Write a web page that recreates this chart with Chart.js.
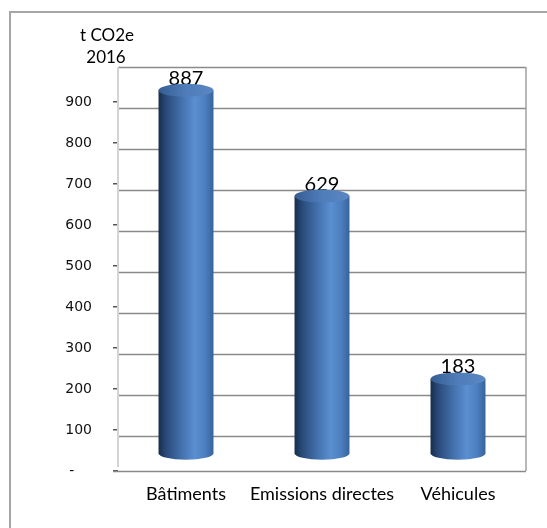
<!DOCTYPE html>
<html>
<head>
<meta charset="utf-8">
<script src="https://cdn.jsdelivr.net/npm/chart.js@4/dist/chart.umd.min.js"></script>
<style>
  html, body { margin: 0; padding: 0; background: #fff; }
  canvas { display: block; }
</style>
</head>
<body>
<canvas id="c" width="547" height="528"></canvas>
<script>
// Emissions per source, tonnes CO2e, 2016
const categories = ['Bâtiments', 'Emissions directes', 'Véhicules'];
const emissions = [887, 629, 183];
const titleLines = ['t CO2e', '2016'];
const yMax = 1000;
const yStep = 100;

// 3D look: back wall sits a little below the axis labels, cylinders a little above
const WALL_SHIFT = 6;
const BAR_SHIFT = -17;
const CAP_RY = 6.5;

const framePlugin = {
  id: 'frame',
  beforeDraw(chart) {
    const ctx = chart.ctx;
    ctx.save();
    ctx.fillStyle = '#fff';
    ctx.fillRect(0, 0, chart.width, chart.height);
    ctx.strokeStyle = '#a6a6a6';
    ctx.lineWidth = 2;
    ctx.strokeRect(10, 12, chart.width + 20, chart.height + 20);
    // title
    ctx.fillStyle = '#000';
    ctx.font = '17px Lato';
    ctx.textAlign = 'center';
    ctx.textBaseline = 'middle';
    ctx.fillText(titleLines[0], 107, 36);
    ctx.fillText(titleLines[1], 106, 58);
    ctx.restore();
  },
  beforeDatasetsDraw(chart) {
    const ctx = chart.ctx;
    const a = chart.chartArea;
    const y = chart.scales.y;
    ctx.save();
    // back wall grid
    ctx.strokeStyle = '#8a8a8a';
    ctx.lineWidth = 1.5;
    for (let v = yStep; v <= yMax; v += yStep) {
      const py = Math.round(y.getPixelForValue(v) + WALL_SHIFT) + 0.5;
      ctx.beginPath();
      ctx.moveTo(a.left, py);
      ctx.lineTo(a.right, py);
      ctx.stroke();
    }
    // side edges
    const topY = y.getPixelForValue(yMax) + WALL_SHIFT;
    const floorY = y.getPixelForValue(0);
    ctx.strokeStyle = '#d4d4d4';
    ctx.lineWidth = 2;
    ctx.beginPath();
    ctx.moveTo(a.left, topY);
    ctx.lineTo(a.left, floorY - 4);
    ctx.stroke();
    ctx.strokeStyle = '#a0a0a0';
    ctx.lineWidth = 1.5;
    ctx.beginPath();
    ctx.moveTo(a.right, topY);
    ctx.lineTo(a.right, floorY);
    ctx.stroke();
    // floor front edge
    ctx.strokeStyle = '#8a8a8a';
    ctx.beginPath();
    ctx.moveTo(a.left - 5, Math.round(floorY) + 0.5);
    ctx.lineTo(a.right, Math.round(floorY) + 0.5);
    ctx.stroke();
    ctx.restore();
  },
  afterDatasetsDraw(chart) {
    const ctx = chart.ctx;
    const meta = chart.getDatasetMeta(0);
    const values = chart.data.datasets[0].data;
    ctx.save();
    // value labels sit just above each cap
    ctx.fillStyle = '#000';
    ctx.font = '20px Lato';
    ctx.textAlign = 'center';
    ctx.textBaseline = 'alphabetic';
    meta.data.forEach((el, i) => {
      const yTop = el.y + BAR_SHIFT;
      ctx.fillText(String(values[i]), el.x, yTop - CAP_RY + 1);
    });
    // cylinders
    meta.data.forEach((el) => {
      const cx = el.x;
      const rx = el.width / 2;
      const yTop = el.y + BAR_SHIFT;
      const yBase = el.base + BAR_SHIFT;
      const g = ctx.createLinearGradient(cx - rx, 0, cx + rx, 0);
      g.addColorStop(0, '#172d4c');
      g.addColorStop(0.15, '#2a4c7b');
      g.addColorStop(0.45, '#4675b2');
      g.addColorStop(0.66, '#5a8fd1');
      g.addColorStop(0.86, '#4b7dbd');
      g.addColorStop(1, '#36629b');
      ctx.beginPath();
      ctx.moveTo(cx - rx, yTop);
      ctx.lineTo(cx - rx, yBase);
      ctx.ellipse(cx, yBase, rx, CAP_RY, 0, Math.PI, 0, true);
      ctx.lineTo(cx + rx, yTop);
      ctx.closePath();
      ctx.fillStyle = g;
      ctx.fill();
      const t = ctx.createLinearGradient(cx - rx, 0, cx + rx, 0);
      t.addColorStop(0, '#365d92');
      t.addColorStop(0.5, '#4f7dba');
      t.addColorStop(1, '#5a87c2');
      ctx.beginPath();
      ctx.ellipse(cx, yTop, rx, CAP_RY, 0, 0, Math.PI * 2);
      ctx.fillStyle = t;
      ctx.fill();
    });
    ctx.restore();
  }
};

new Chart(document.getElementById('c'), {
  type: 'bar',
  data: {
    labels: categories,
    datasets: [{
      data: emissions,
      backgroundColor: 'rgba(0,0,0,0)',
      borderWidth: 0,
      barPercentage: 0.404,
      categoryPercentage: 1
    }]
  },
  options: {
    responsive: false,
    animation: false,
    devicePixelRatio: 1,
    layout: { padding: { top: 61, right: 21, left: 0, bottom: 0 } },
    plugins: { legend: { display: false }, tooltip: { enabled: false } },
    scales: {
      x: {
        grid: { display: false, drawTicks: false },
        border: { display: false },
        ticks: { color: '#000', font: { family: 'Lato', size: 18 }, padding: 12, maxRotation: 0, autoSkip: false },
        afterFit(s) { s.height = 57; }
      },
      y: {
        min: 0,
        max: yMax,
        grid: {
          drawOnChartArea: false,
          drawTicks: true,
          tickLength: 5,
          tickColor: (c) => (c.tick && c.tick.value === yMax ? 'rgba(0,0,0,0)' : '#555'),
          lineWidth: 1.5
        },
        border: { display: false },
        ticks: {
          stepSize: yStep,
          padding: 21,
          color: '#111',
          font: { family: 'DejaVu Sans', size: 14 },
          callback: (v) => (v === 0 ? '-    ' : v === yMax ? '' : String(v))
        },
        afterFit(s) { s.width = 118; }
      }
    }
  },
  plugins: [framePlugin]
});
</script>
</body>
</html>
